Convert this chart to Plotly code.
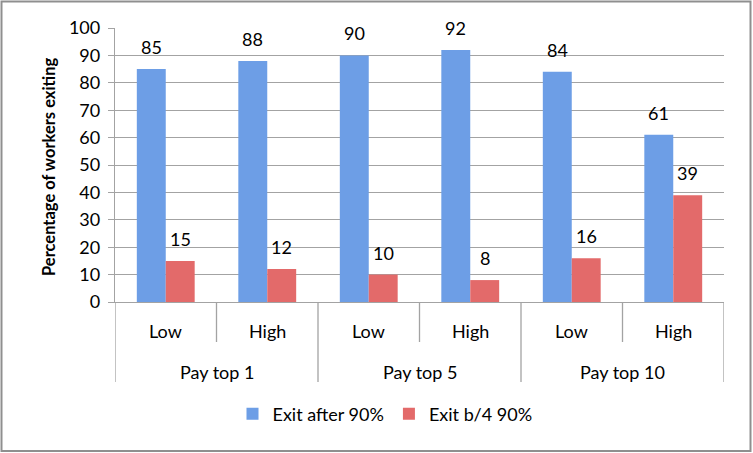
import plotly.graph_objects as go

groups = ["Pay top 1", "Pay top 5", "Pay top 10"]
levels = ["Low", "High"]
exit_after = [85, 88, 90, 92, 84, 61]
exit_before = [15, 12, 10, 8, 16, 39]
series_names = ["Exit after 90%", "Exit b/4 90%"]
y_ticks = list(range(0, 101, 10))

cats = [f"{g}|{l}" for g in groups for l in levels]

FONT = "Lato, 'Open Sans', sans-serif"
GRID = "#a3a3a3"
W, H = 753, 453
L, R, T, B = 115, 29, 28, 151
pw, ph = W - L - R, H - T - B


def py(pix):
    """pixel row -> paper y"""
    return (H - B - pix) / ph


def px(pix):
    """pixel column -> paper x"""
    return (pix - L) / pw


fig = go.Figure()
fig.add_trace(go.Bar(x=cats, y=exit_after, name=series_names[0],
                     marker=dict(color="#6d9ee6", line=dict(width=0))))
fig.add_trace(go.Bar(x=cats, y=exit_before, name=series_names[1],
                     marker=dict(color="#e36a6a", line=dict(width=0))))

n = len(cats)
bargap = 0.43
half_bar = pw / n * (1 - bargap) / 4

ann = []
shapes = []
for i, c in enumerate(cats):
    ann.append(dict(x=c, y=exit_after[i], xref="x", yref="y", text=str(exit_after[i]),
                    showarrow=False, xshift=-half_bar, yanchor="bottom", yshift=9,
                    font=dict(size=18, color="black", family=FONT)))
    ann.append(dict(x=c, y=exit_before[i], xref="x", yref="y", text=str(exit_before[i]),
                    showarrow=False, xshift=half_bar, yanchor="bottom", yshift=9,
                    font=dict(size=18, color="black", family=FONT)))

# inner labels
for i, c in enumerate(cats):
    ann.append(dict(x=i, y=py(331), xref="x", yref="paper", text=c.split("|")[1],
                    showarrow=False, yanchor="middle",
                    font=dict(size=18, color="black", family=FONT)))
# dividers
for j in range(n + 1):
    outer = (j % len(levels) == 0)
    ybot = 382 if outer else 342
    shapes.append(dict(type="line", xref="x", yref="paper", x0=j - 0.5, x1=j - 0.5,
                       y0=0, y1=py(ybot), line=dict(color=GRID, width=1.3)))
# outer labels
for k, g in enumerate(groups):
    ann.append(dict(x=k * len(levels) + (len(levels) - 1) / 2, y=py(372),
                    xref="x", yref="paper", text=g, showarrow=False, yanchor="middle",
                    font=dict(size=18, color="black", family=FONT)))

# y title
ann.append(dict(x=px(49), y=py(167), xref="paper", yref="paper",
                text="<b>Percentage of workers exiting</b>", textangle=-90,
                showarrow=False, xanchor="center", yanchor="middle",
                font=dict(size=16.5, color="black", family=FONT)))

# outer border
shapes.append(dict(type="rect", xref="paper", yref="paper",
                   x0=px(1.5), x1=px(750.5), y0=py(451), y1=py(1.5),
                   line=dict(color="#8f8f8f", width=2), fillcolor="rgba(0,0,0,0)",
                   layer="below"))

fig.update_layout(
    width=W, height=H,
    margin=dict(l=L, r=R, t=T, b=B),
    paper_bgcolor="white", plot_bgcolor="white",
    barmode="group", bargap=bargap, bargroupgap=0,
    font=dict(family=FONT, color="black"),
    showlegend=True,
    legend=dict(orientation="h", x=px(385), xanchor="center",
                y=py(414), yanchor="middle",
                font=dict(size=18, family=FONT), itemwidth=30,
                traceorder="normal", bgcolor="rgba(0,0,0,0)"),
    annotations=ann, shapes=shapes,
)
fig.update_xaxes(type="category", showticklabels=False, showgrid=False,
                 showline=True, linecolor=GRID, linewidth=1.3, ticks="",
                 range=[-0.5, n - 0.5])
fig.update_yaxes(range=[0, 100], tickvals=y_ticks, showgrid=True, gridcolor=GRID,
                 gridwidth=1.3, showline=True, linecolor=GRID, linewidth=1.3,
                 ticks="outside", ticklen=6, tickcolor=GRID, tickwidth=1.3,
                 ticklabelstandoff=4,
                 tickfont=dict(size=18, family=FONT, color="black"), zeroline=False)

fig.write_html("out.html")
